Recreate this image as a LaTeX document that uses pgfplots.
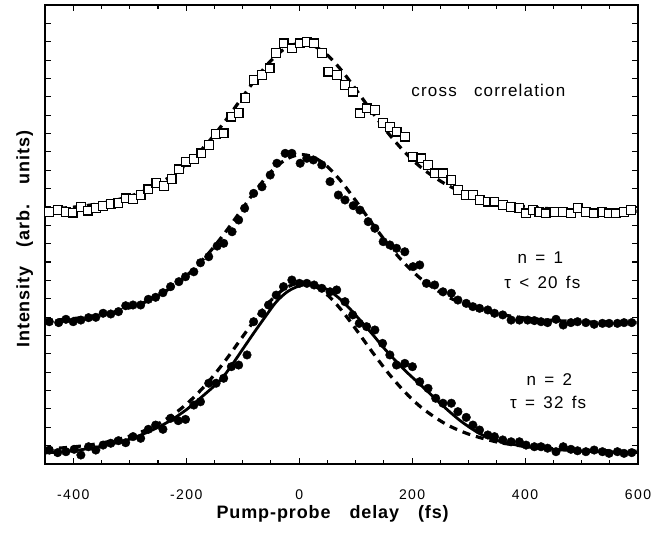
\documentclass[border=0pt]{standalone}
\usepackage{fontspec}
\setmainfont{Liberation Sans}
\newfontfamily\labfont[LetterSpace=5,WordSpace=3.2]{Liberation Sans}
\newfontfamily\annfont[LetterSpace=7,WordSpace=1.4]{Liberation Sans}
\newfontfamily\tickfont[LetterSpace=10]{Liberation Sans}
\usepackage{pgfplots}
\pgfplotsset{compat=1.18}

\pgfplotstableread{
t y
-442.4 13.74
-427.6 13.83
-412.9 13.74
-401.1 13.69
-386.5 14.01
-374.6 13.80
-360.0 13.93
-347.1 14.05
-333.5 14.16
-319.9 14.20
-307.1 14.47
-294.2 14.42
-280.6 14.65
-267.0 14.96
-252.9 15.29
-239.5 15.14
-225.9 15.51
-213.0 16.05
-199.9 16.47
-186.5 16.60
-172.9 16.92
-160.1 17.37
-147.0 17.97
-133.6 18.01
-120.0 18.92
-107.1 19.13
-95.3 19.92
-80.6 20.92
-65.8 21.19
-52.4 21.55
-40.6 22.40
-27.7 22.91
-12.9 22.64
1.8 22.91
13.6 23.00
26.5 22.91
40.1 22.37
51.7 21.37
66.5 21.19
81.2 20.64
95.8 20.28
107.6 19.10
119.5 19.37
134.1 19.28
148.8 18.56
160.6 18.37
172.4 18.10
187.1 17.83
201.7 16.74
216.5 16.65
228.2 16.29
240.0 15.83
254.6 15.83
269.5 15.47
281.1 14.92
295.9 14.65
307.6 14.65
319.4 14.38
334.1 14.29
345.9 14.29
360.5 14.11
375.3 14.01
390.0 13.93
401.8 13.65
413.5 13.83
425.3 13.74
437.1 13.65
451.8 13.74
466.4 13.74
481.2 13.65
492.9 13.93
507.7 13.74
522.4 13.65
537.0 13.74
548.8 13.65
560.6 13.65
575.3 13.74
587.1 13.83
}\crossdata

\pgfplotstableread{
t y
-442.4 7.75
-425.8 7.70
-412.9 7.88
-400.1 7.75
-386.5 7.84
-372.9 7.97
-360.0 7.99
-347.1 8.21
-333.5 8.17
-319.9 8.30
-307.1 8.62
-294.2 8.66
-280.6 8.66
-267.0 8.97
-254.1 9.08
-241.2 9.33
-227.6 9.66
-213.0 9.93
-201.2 10.20
-186.5 10.47
-174.7 10.96
-160.1 11.29
-145.2 11.87
-133.6 12.02
-118.8 12.65
-107.1 13.29
-96.5 13.93
-80.6 14.74
-65.8 15.10
-51.2 15.74
-39.4 16.38
-24.7 16.92
-12.9 16.92
1.8 16.38
13.6 16.65
25.2 16.56
40.1 16.29
54.7 15.38
69.4 14.65
81.2 14.38
95.8 14.07
107.6 13.83
122.3 13.20
134.1 12.84
148.8 12.11
160.6 11.93
172.4 11.75
187.1 11.56
201.7 10.75
213.5 10.84
225.4 9.84
240.0 9.75
254.6 9.38
269.5 9.30
281.1 8.93
295.9 8.75
307.6 8.57
319.4 8.48
334.1 8.39
345.9 8.21
360.5 8.12
375.3 7.84
390.0 7.84
404.6 7.84
416.5 7.81
428.3 7.75
439.9 7.70
454.8 7.88
467.6 7.57
481.2 7.70
492.9 7.75
507.7 7.70
522.4 7.61
537.0 7.66
548.8 7.66
563.5 7.66
575.3 7.70
588.9 7.70
}\nonedata

\pgfplotstableread{
t y
-442.4 0.76
-427.6 0.62
-412.9 0.67
-398.3 0.80
-386.5 0.49
-372.9 0.94
-360.0 0.76
-347.1 1.03
-333.5 1.13
-319.9 1.27
-307.1 1.16
-294.2 1.49
-280.6 1.40
-267.0 1.89
-254.1 2.12
-241.2 1.89
-227.6 2.49
-214.1 2.36
-201.2 2.43
-186.5 3.21
-174.7 3.39
-160.1 4.40
-147.0 4.40
-133.6 4.67
-120.0 5.30
-107.1 5.39
-92.3 5.94
-80.6 7.75
-65.8 8.21
-54.2 8.66
-40.6 9.20
-27.7 9.66
-12.9 10.02
0.5 9.84
13.6 9.84
26.5 9.75
40.1 9.57
54.7 9.38
66.5 9.48
81.2 8.84
94.8 8.12
106.4 7.66
119.5 7.48
134.1 7.30
147.7 6.57
160.6 5.94
172.4 5.39
187.1 5.48
200.6 5.30
213.5 4.48
228.2 4.12
241.8 3.58
254.6 3.31
269.5 3.31
281.1 2.85
295.9 2.54
307.6 2.12
319.4 1.85
334.1 1.58
345.9 1.49
360.5 1.31
375.3 1.21
390.0 1.21
401.8 1.03
416.5 0.94
428.3 0.94
439.9 0.86
454.8 0.67
467.6 0.94
481.2 0.80
492.9 0.72
507.7 0.67
522.4 0.76
537.0 0.67
548.8 0.58
563.5 0.67
575.3 0.58
588.9 0.62
}\ntwodata

\pgfplotstableread{
t top mid bot
-450 13.87 7.80 0.81
-400 13.99 7.92 0.93
-350 14.20 8.13 1.14
-300 14.58 8.51 1.52
-260 15.07 9.00 2.01
-220 15.82 9.75 2.76
-190 16.59 10.52 3.53
-160 17.56 11.49 4.50
-130 18.72 12.65 5.66
-100 20.00 13.93 6.94
-75 21.05 14.98 7.99
-50 21.97 15.90 8.91
-25 22.63 16.56 9.57
0 22.92 16.85 9.86
25 22.79 16.72 9.73
50 22.27 16.20 9.21
75 21.44 15.37 8.38
100 20.42 14.35 7.36
130 19.14 13.07 6.08
160 17.93 11.86 4.87
190 16.89 10.82 3.83
220 16.05 9.98 2.99
260 15.23 9.16 2.17
300 14.69 8.62 1.63
350 14.26 8.19 1.20
400 14.02 7.95 0.96
450 13.89 7.82 0.83
500 13.82 7.75 0.76
550 13.78 7.71 0.72
600 13.76 7.69 0.70
}\fitdata

\pgfplotstableread{
t y
-450 0.60
-400 0.72
-350 0.97
-300 1.35
-260 1.85
-230 2.33
-200 2.95
-170 3.72
-140 4.55
-120 5.35
-100 6.25
-80 7.15
-60 8.02
-40 8.85
-20 9.40
0 9.70
15 9.80
30 9.74
50 9.50
70 9.05
90 8.45
110 7.76
130 7.06
150 6.32
170 5.65
190 5.02
210 4.45
230 3.88
250 3.30
270 2.75
290 2.25
320 1.65
350 1.28
400 0.95
450 0.80
500 0.70
550 0.65
600 0.62
}\solidfit

\begin{document}
\begin{tikzpicture}
\begin{axis}[
  name=ax,
  scale only axis, width=593bp, height=459bp,
  xmin=-450, xmax=600, ymin=0, ymax=25,
  xtick={-400,-200,0,200,400,600},
  xticklabels={-400,-200,0,200,400,600},
  minor x tick num=3,
  ytick={1,2,...,24}, yticklabels={},
  tick align=inside,
  major tick length=6bp, minor tick length=4bp,
  every tick/.style={black, line width=1.1bp},
  axis line style={line width=1.8bp},
  xticklabel style={font=\tickfont\fontsize{14bp}{14bp}\selectfont, inner sep=0pt, anchor=north, yshift=-26bp},
  xlabel={Pump-probe delay (fs)},
  xlabel style={font=\labfont\bfseries\fontsize{18bp}{18bp}\selectfont, at={(axis description cs:0.485,-0.0893)}, anchor=north, inner sep=0pt},
  ylabel={Intensity (arb. units)},
  ylabel style={font=\labfont\bfseries\fontsize{18bp}{18bp}\selectfont, at={(axis description cs:-0.0197,0.49)}, anchor=south, inner sep=0pt},
]
\addplot[only marks, mark=square*, mark size=4.4bp, mark options={fill=white, draw=black, line width=1.2bp}] table[x=t,y=y] {\crossdata};
\addplot[only marks, mark=*, mark size=4.3bp, mark options={fill=black, draw=black, line width=0.4bp}] table[x=t,y=y] {\nonedata};
\addplot[only marks, mark=*, mark size=4.3bp, mark options={fill=black, draw=black, line width=0.4bp}] table[x=t,y=y] {\ntwodata};
\addplot[black, line width=3.2bp, dash pattern=on 8bp off 6bp, smooth] table[x=t,y=top] {\fitdata};
\addplot[black, line width=3.2bp, dash pattern=on 8bp off 6bp, smooth] table[x=t,y=mid] {\fitdata};
\addplot[black, line width=3.2bp, dash pattern=on 8bp off 6bp, smooth] table[x=t,y=bot] {\fitdata};
\addplot[black, line width=2.8bp, smooth] table[x=t,y=y] {\solidfit};
\node[font=\annfont\fontsize{17bp}{17bp}\selectfont] at (axis cs:335,20.37) {cross\hspace{9bp} correlation};
\node[font=\annfont\fontsize{17bp}{17bp}\selectfont] at (axis cs:427,11.22) {n = 1};
\node[font=\annfont\fontsize{17bp}{17bp}\selectfont] at (axis cs:430.6,9.91) {τ < 20 fs};
\node[font=\annfont\fontsize{17bp}{17bp}\selectfont] at (axis cs:443,4.58) {n = 2};
\node[font=\annfont\fontsize{17bp}{17bp}\selectfont] at (axis cs:441,3.38) {τ = 32 fs};
\end{axis}
\path ([xshift=-45bp,yshift=-69bp]ax.south west) rectangle ([xshift=34bp,yshift=5bp]ax.north east);
\end{tikzpicture}
\end{document}
